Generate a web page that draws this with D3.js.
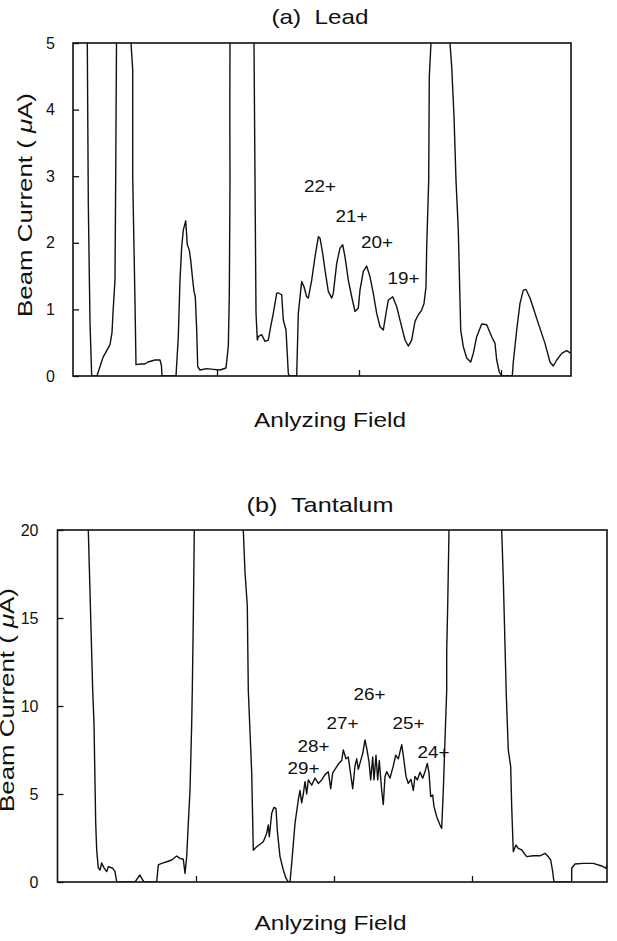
<!DOCTYPE html>
<html>
<head>
  <meta charset="utf-8">
  <script src="https://d3js.org/d3.v7.min.js"></script>
  <title>Beam current vs analyzing field</title>
  <style>
    body { margin: 0; background: #fff; }
    svg { display: block; font-family: "Liberation Sans", Arial, sans-serif; }
    .domain { display: none; }
    .tick line { stroke: #111; stroke-width: 1.3; }
    .tick text { fill: #111; font-size: 16px; }
    .frame { fill: none; stroke: #111; stroke-width: 1.6; }
    .trace { fill: none; stroke: #111; stroke-width: 1.4; stroke-linejoin: round; }
    .title, .axis-label { fill: #111; white-space: pre; }
    .ion { fill: #111; font-size: 16px; }
  </style>
</head>
<body>
  <svg width="617" height="941"></svg>
  <script>
    // (a) Lead : [field (arb.), current (uA)]
    const leadTrace = [
      [13.5, 5.5], [14.3, 5.0], [15.3, 2.6], [17, 0.8], [18.7, 0], [24, 0], [25, 0.05], [30, 0.28],
      [37, 0.47], [39, 0.65], [40, 0.95], [42, 1.45], [42.7, 3.0], [43.5, 5.0], [43.8, 5.5],
      [57.5, 5.5], [58, 5.0], [59.7, 4.6], [59.7, 3.0], [62, 1.1], [63, 0.17], [68, 0.18], [72, 0.18],
      [75, 0.21], [82, 0.24], [87, 0.24], [88.5, 0.15], [89, 0], [103, 0], [105.3, 0.59], [107, 1.44],
      [108.7, 1.94], [110.3, 2.19], [112.7, 2.33], [114.3, 1.97], [116.3, 1.89], [117.7, 1.74],
      [119.7, 1.44], [121, 1.27], [122.3, 1.19], [123.7, 0.69], [124.7, 0.14], [127, 0.09],
      [133.7, 0.11], [140.3, 0.1], [147, 0.09], [153, 0.12], [155.3, 0.44], [156.3, 1.19],
      [157, 2.94], [156.8, 4.0], [157, 5.0], [157, 5.5],
      [181, 5.5], [181, 5.0], [182, 2.94], [183, 0.95], [184.3, 0.54], [185.3, 0.59], [188.7, 0.62],
      [192, 0.52], [195.3, 0.54], [197.7, 0.74], [200.3, 0.94], [203.7, 1.24], [205, 1.25],
      [208.7, 1.22], [210.3, 0.84], [213, 0.69], [215.3, 0.04], [216.3, 0], [223.7, 0], [225.3, 0.94],
      [228.7, 1.42], [231, 1.34], [233.7, 1.19], [235.3, 1.17], [238.7, 1.44], [242, 1.79],
      [245.3, 2.09], [247, 2.07], [249.7, 1.84], [252, 1.59], [255.3, 1.27], [258.7, 1.17],
      [260.3, 1.24], [263.7, 1.69], [267, 1.92], [269.7, 1.97], [272, 1.79], [275.3, 1.44],
      [278.7, 1.19], [282, 0.97], [285.3, 1.02], [287, 1.29], [290.3, 1.57], [293.7, 1.65],
      [297, 1.49], [300.3, 1.24], [303.7, 0.94], [307, 0.74], [310.3, 0.69], [313, 0.94],
      [315.3, 1.14], [319.7, 1.19], [323.7, 1.04], [327, 0.84], [332, 0.54], [335.3, 0.45],
      [338.7, 0.54], [342, 0.82], [345.3, 0.92], [348.7, 0.99], [351, 1.09], [353, 1.34],
      [353.7, 1.94], [354.7, 2.44], [355.7, 2.94], [356.3, 4.5], [358, 5.0], [358, 5.5],
      [377, 5.5], [377, 5.0], [378.7, 4.64], [381, 3.9], [383, 2.94], [385.3, 2.19], [387.7, 0.69],
      [390.3, 0.44], [393.7, 0.27], [397.7, 0.21], [400.3, 0.34], [403.7, 0.59], [408.7, 0.78],
      [413.7, 0.77], [418.7, 0.59], [422, 0.49], [423.7, 0.24], [426.3, 0.06], [428.7, 0],
      [439.3, 0], [440.3, 0.21], [443.7, 0.69], [447, 1.09], [450.3, 1.29], [453, 1.3], [457, 1.17],
      [460.3, 1.02], [465.3, 0.79], [472, 0.49], [477, 0.21], [480.3, 0.15], [483.7, 0.24],
      [488.7, 0.34], [493.7, 0.38], [498, 0.34]
    ];
    const leadTicksX = [144, 286, 428];
    const leadTicksY = [0, 1, 2, 3, 4, 5];
    const leadIons = [
      { label: '22+', x: 247, y: 2.84 },
      { label: '21+', x: 278.5, y: 2.39 },
      { label: '20+', x: 304, y: 2.01 },
      { label: '19+', x: 330.5, y: 1.46 }
    ];

    // (b) Tantalum : [field (arb.), current (uA)]
    const tantalumTrace = [
      [30.8, 21], [30.8, 20], [35.2, 10.9], [36.5, 9.0], [38.2, 3.35], [39.2, 1.8], [40.8, 0.8],
      [42.5, 0.68], [44.2, 1.08], [46.5, 0.8], [49.2, 0.59], [50.8, 0.87], [55.2, 0.78], [57.5, 0.59],
      [59.2, 0], [77.5, 0], [82.5, 0.4], [84.2, 0.2], [86.5, 0], [99.2, 0], [100.8, 0.97],
      [104.2, 1.06], [109.2, 1.15], [114.2, 1.25], [119.2, 1.48], [122.5, 1.34], [125.8, 1.29],
      [127.5, 0.49], [129.2, 1.44], [130.8, 3.33], [132.5, 5.2], [134.2, 9.0], [134.8, 10.9],
      [135.8, 15], [136.8, 20], [136.8, 21],
      [185.8, 21], [185.8, 20], [187.5, 17.6], [189.8, 15.7], [190.8, 10.9], [194.2, 6.2],
      [195.8, 1.8], [199.2, 2.0], [205.8, 2.29], [209.2, 2.77], [210.8, 3.24], [211.8, 2.57],
      [214.2, 3.9], [216.5, 4.24], [218.5, 4.18], [219.8, 2.95], [222.5, 1.44], [225.8, 0.68],
      [228.5, 0.2], [230.8, 0], [232.5, 0], [234.2, 1.06], [237.5, 3.33], [240.8, 4.66],
      [242.5, 5.2], [244.2, 4.5], [245.8, 5.0], [247.5, 5.7], [249.2, 5.0], [250.8, 5.8],
      [254.2, 5.5], [257.5, 5.9], [260.8, 5.6], [264.2, 5.8], [267.5, 6.1], [270.8, 6.27],
      [273.2, 5.3], [275.2, 6.2], [277.5, 6.4], [280.8, 6.7], [284.2, 6.9], [285.8, 7.5],
      [288.5, 7.0], [290.8, 7.1], [293.2, 6.1], [295.2, 5.3], [297.5, 6.6], [299.2, 7.0],
      [300.8, 6.4], [303.2, 6.9], [305.2, 7.3], [307.5, 8.07], [309.2, 7.6], [311.5, 6.83],
      [313.2, 5.8], [315.2, 7.1], [316.5, 5.8], [318.5, 7.2], [320.2, 5.8], [321.8, 6.9],
      [324.2, 5.2], [325.8, 4.4], [327.5, 6.0], [329.2, 6.27], [332.5, 5.9], [335.8, 6.6],
      [338.2, 7.2], [340.8, 7.0], [344.2, 7.8], [345.8, 7.2], [348.5, 6.0], [350.8, 5.6],
      [353.5, 5.83], [355.8, 5.2], [357.5, 6.0], [359.8, 5.8], [362.5, 6.24], [365.2, 5.9],
      [367.5, 6.27], [369.8, 6.74], [371.5, 6.2], [373.2, 4.85], [375.2, 4.94], [376.5, 4.28],
      [379.2, 3.71], [382.5, 3.24], [384.2, 3.05], [385.8, 5.2], [387.5, 8.07], [389.2, 10.9],
      [389.2, 13.1], [390.2, 15.7], [391.5, 20], [391.5, 21],
      [444.2, 21], [444.2, 20], [445.8, 17.2], [448.8, 10.6], [450.8, 7.5], [453.2, 6.55],
      [454.2, 4.28], [455.8, 1.72], [458.5, 2.1], [460.8, 1.91], [464.2, 1.82], [469.2, 1.44],
      [475.8, 1.49], [482.5, 1.49], [487.5, 1.63], [490.8, 1.44], [493.2, 1.25], [495.2, 0.59],
      [495.8, 0.3], [496.5, 0], [514.2, 0], [514.2, 0.78], [517.5, 1.02], [525.8, 1.06],
      [535.8, 1.06], [544.2, 0.91], [548.5, 0.78], [549.5, 0.97]
    ];
    const tantalumTicksX = [138.5, 276.5, 414.5];
    const tantalumTicksY = [0, 5, 10, 15, 20];
    const tantalumIons = [
      { label: '26+', x: 312, y: 10.63 },
      { label: '27+', x: 285, y: 9.03 },
      { label: '25+', x: 351, y: 9.03 },
      { label: '28+', x: 256, y: 7.67 },
      { label: '29+', x: 246, y: 6.42 },
      { label: '24+', x: 376, y: 7.33 }
    ];

    const svg = d3.select('svg');

    // the scanned lettering is wider than Liberation Sans, so stretch each text to its width
    function stretch(node, width, base) {
      const w = node.getComputedTextLength();
      const k = w > 0 ? width / w : 1;
      d3.select(node).attr('transform', `${base} scale(${k},1)`);
    }

    function drawPanel(opt) {
      const g = svg.append('g')
        .attr('transform', `translate(${opt.left},${opt.top})`);

      const xScale = d3.scaleLinear().domain(opt.xDomain).range([0, opt.width]);
      const yScale = d3.scaleLinear().domain(opt.yDomain).range([opt.height, 0]);

      g.append('clipPath').attr('id', opt.id + '-clip')
        .append('rect').attr('width', opt.width).attr('height', opt.height);

      g.append('g')
        .attr('transform', `translate(0,${opt.height})`)
        .call(d3.axisBottom(xScale).tickValues(opt.xTicks).tickSize(-6).tickFormat(''));

      g.append('g')
        .call(d3.axisLeft(yScale).tickValues(opt.yTicks).tickSize(-6).tickPadding(opt.tickPad)
          .tickFormat(d3.format('d')));

      const line = d3.line()
        .x(d => xScale(d[0]))
        .y(d => yScale(d[1]));

      g.append('path')
        .datum(opt.trace)
        .attr('class', 'trace')
        .attr('clip-path', `url(#${opt.id}-clip)`)
        .attr('d', line);

      g.append('rect')
        .attr('class', 'frame')
        .attr('width', opt.width)
        .attr('height', opt.height);

      g.selectAll('.ion').data(opt.ions)
        .enter().append('text')
        .attr('class', 'ion')
        .attr('text-anchor', 'middle')
        .attr('dominant-baseline', 'central')
        .text(d => d.label)
        .each(function (d) {
          stretch(this, 32, `translate(${xScale(d.x)},${yScale(d.y)})`);
        });

      const title = g.append('text')
        .attr('class', 'title')
        .attr('xml:space', 'preserve')
        .attr('text-anchor', 'middle')
        .style('font-size', '20px')
        .text(opt.title);
      stretch(title.node(), opt.titleW, `translate(${opt.titleX},${opt.titleY})`);

      const xl = g.append('text')
        .attr('class', 'axis-label')
        .attr('text-anchor', 'middle')
        .style('font-size', '21px')
        .text('Anlyzing Field');
      stretch(xl.node(), 152, `translate(${opt.xLabelX},${opt.height + opt.xLabelDy})`);

      const yl = g.append('text')
        .attr('class', 'axis-label')
        .attr('text-anchor', 'middle')
        .style('font-size', '20px');
      yl.append('tspan').text('Beam Current ( ');
      yl.append('tspan').style('font-style', 'italic').text('\u03bc');
      yl.append('tspan').text('A)');
      stretch(yl.node(), 224, `translate(${opt.yLabelX},${opt.yLabelY}) rotate(-90)`);
    }

    drawPanel({
      id: 'lead', left: 73, top: 43, width: 498, height: 333,
      xDomain: [0, 498], yDomain: [0, 5], tickPad: 18,
      xTicks: leadTicksX, yTicks: leadTicksY,
      trace: leadTrace, ions: leadIons,
      title: '(a)  Lead', titleX: 247, titleY: -19, titleW: 97,
      xLabelX: 257, xLabelDy: 51, yLabelX: -41, yLabelY: 162
    });

    drawPanel({
      id: 'ta', left: 57.5, top: 530, width: 549.5, height: 352,
      xDomain: [0, 549.5], yDomain: [0, 20], tickPad: 19,
      xTicks: tantalumTicksX, yTicks: tantalumTicksY,
      trace: tantalumTrace, ions: tantalumIons,
      title: '(b)  Tantalum', titleX: 262.5, titleY: -18, titleW: 147,
      xLabelX: 273, xLabelDy: 48, yLabelX: -44, yLabelY: 170
    });
  </script>
</body>
</html>
